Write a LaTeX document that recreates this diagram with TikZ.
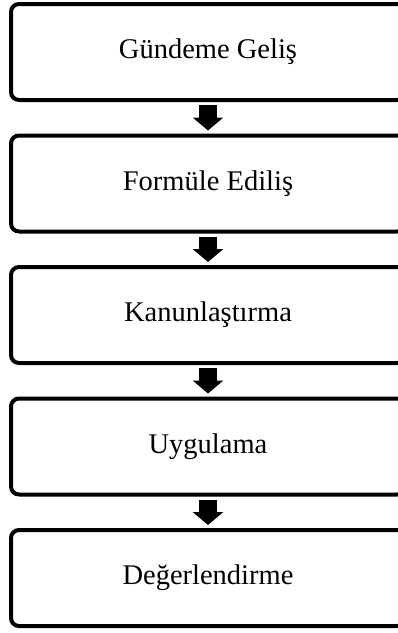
\documentclass[tikz,border=0pt]{standalone}
\usepackage{fontspec}
\setmainfont{Liberation Serif}
\usetikzlibrary{positioning,arrows.meta}

\begin{document}
\begin{tikzpicture}[
  x=1pt, y=1pt,
  stage/.style={draw, line width=4pt, rounded corners=8pt,
    minimum width=394pt, minimum height=96pt,
    font=\fontsize{28.5}{34}\selectfont},
  flowarrow/.style={line width=18pt, shorten <=3pt, shorten >=3pt,
    -{Triangle[width=30pt,length=13pt]}},
  node distance=31.5pt
]
% page size of the reference
\useasboundingbox (0,0) rectangle (398,-633);

% Stages of the policy process, top to bottom
\node[stage] (gundem) at (208,-52) {Gündeme Geliş};
\node[stage, below=of gundem] (formul) {Formüle Ediliş};
\node[stage, below=of formul] (kanun) {Kanunlaştırma};
\node[stage, below=of kanun] (uygulama) {Uygulama};
\node[stage, below=of uygulama] (deger) {Değerlendirme};

% Block arrows between stages
\draw[flowarrow] (gundem) -- (formul);
\draw[flowarrow] (formul) -- (kanun);
\draw[flowarrow] (kanun) -- (uygulama);
\draw[flowarrow] (uygulama) -- (deger);

\end{tikzpicture}
\end{document}
